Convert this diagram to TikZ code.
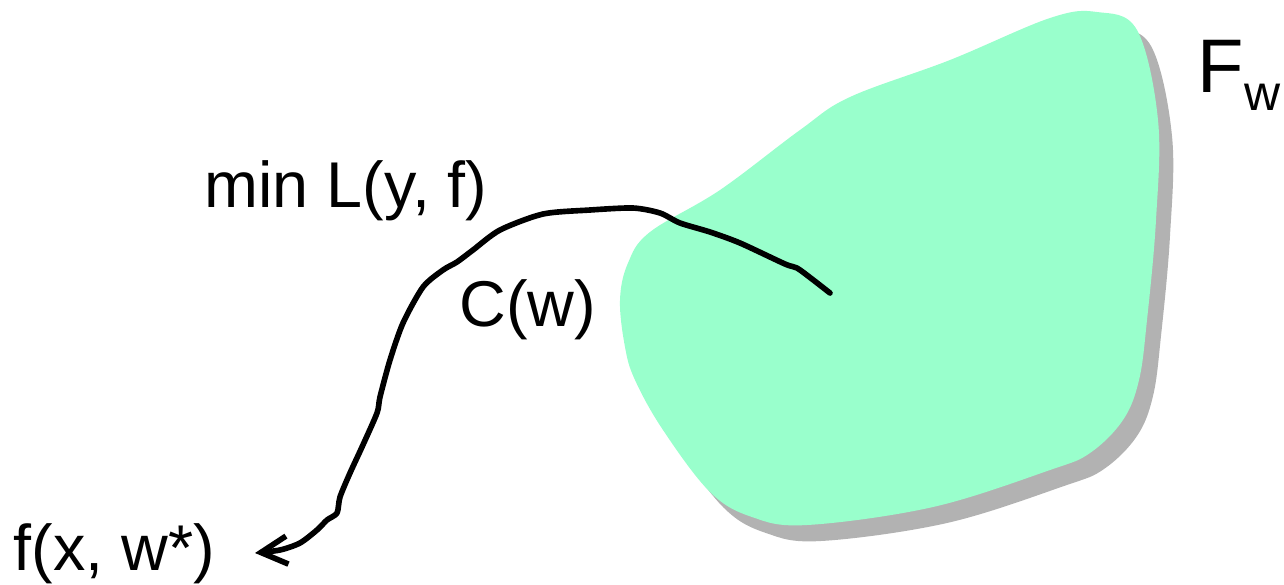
\documentclass[tikz,border=0pt]{standalone}
\usepackage{fontspec}
\setmainfont{Liberation Sans}
\usetikzlibrary{arrows.meta}
\definecolor{blobgreen}{HTML}{99FFCC}
\definecolor{shadowgray}{HTML}{B2B2B2}

\begin{document}
\begin{tikzpicture}[x=0.01cm,y=-0.01cm,>={Straight Barb[length=7.5pt,width=8pt]},lbl/.style={anchor=base west,inner sep=0pt,font=\fontsize{18.4}{21}\selectfont},wiggle/.style={line width=1.6pt,line cap=round,line join=round}]
\useasboundingbox (0,0) rectangle (1284,584);
\foreach \dx/\dy/\c in {14/16/shadowgray,0/0/blobgreen}{\fill[\c,shift={(\dx,\dy)}] plot[smooth cycle,tension=0.6] coordinates {(1097,12) (1137,30) (1158,120) (1156,220) (1147,320) (1139,380) (1123,420) (1090,453) (1050,470) (933,507) (807,525) (752,517) (710,492) (663,430) (635,380) (625,347) (620,300) (628,263) (650,232) (720,190) (800,130) (850,97) (950,60) (1050,18)};}
\node[lbl] (minl) at (204,207) {min L(y, f)};
\node[lbl] (cw) at (459,326) {C(w)};
\node[lbl] (fx) at (13,570) {f(x, w*)};
\node[anchor=base west,inner sep=0pt,font=\fontsize{21.6}{24}\selectfont] (fw) at (1197,92) {F\raisebox{-0.18cm}{\fontsize{14.2}{16}\selectfont w}};
\coordinate (opt) at (830,293);
\coordinate (tip) at (255,553);
\draw[wiggle,->] plot[smooth,tension=0.45] coordinates {(opt) (812,279) (797,268) (785,264) (740,243) (710,232) (680,223) (660,213) (633,208) (590,210) (543,214) (500,230) (473,250) (457,262) (443,270) (423,287) (403,323) (390,360) (380,397) (377,413) (362,447) (350,473) (340,497) (337,513) (327,520) (317,530) (300,543) (280,550) (tip)};
\end{tikzpicture}
\end{document}
